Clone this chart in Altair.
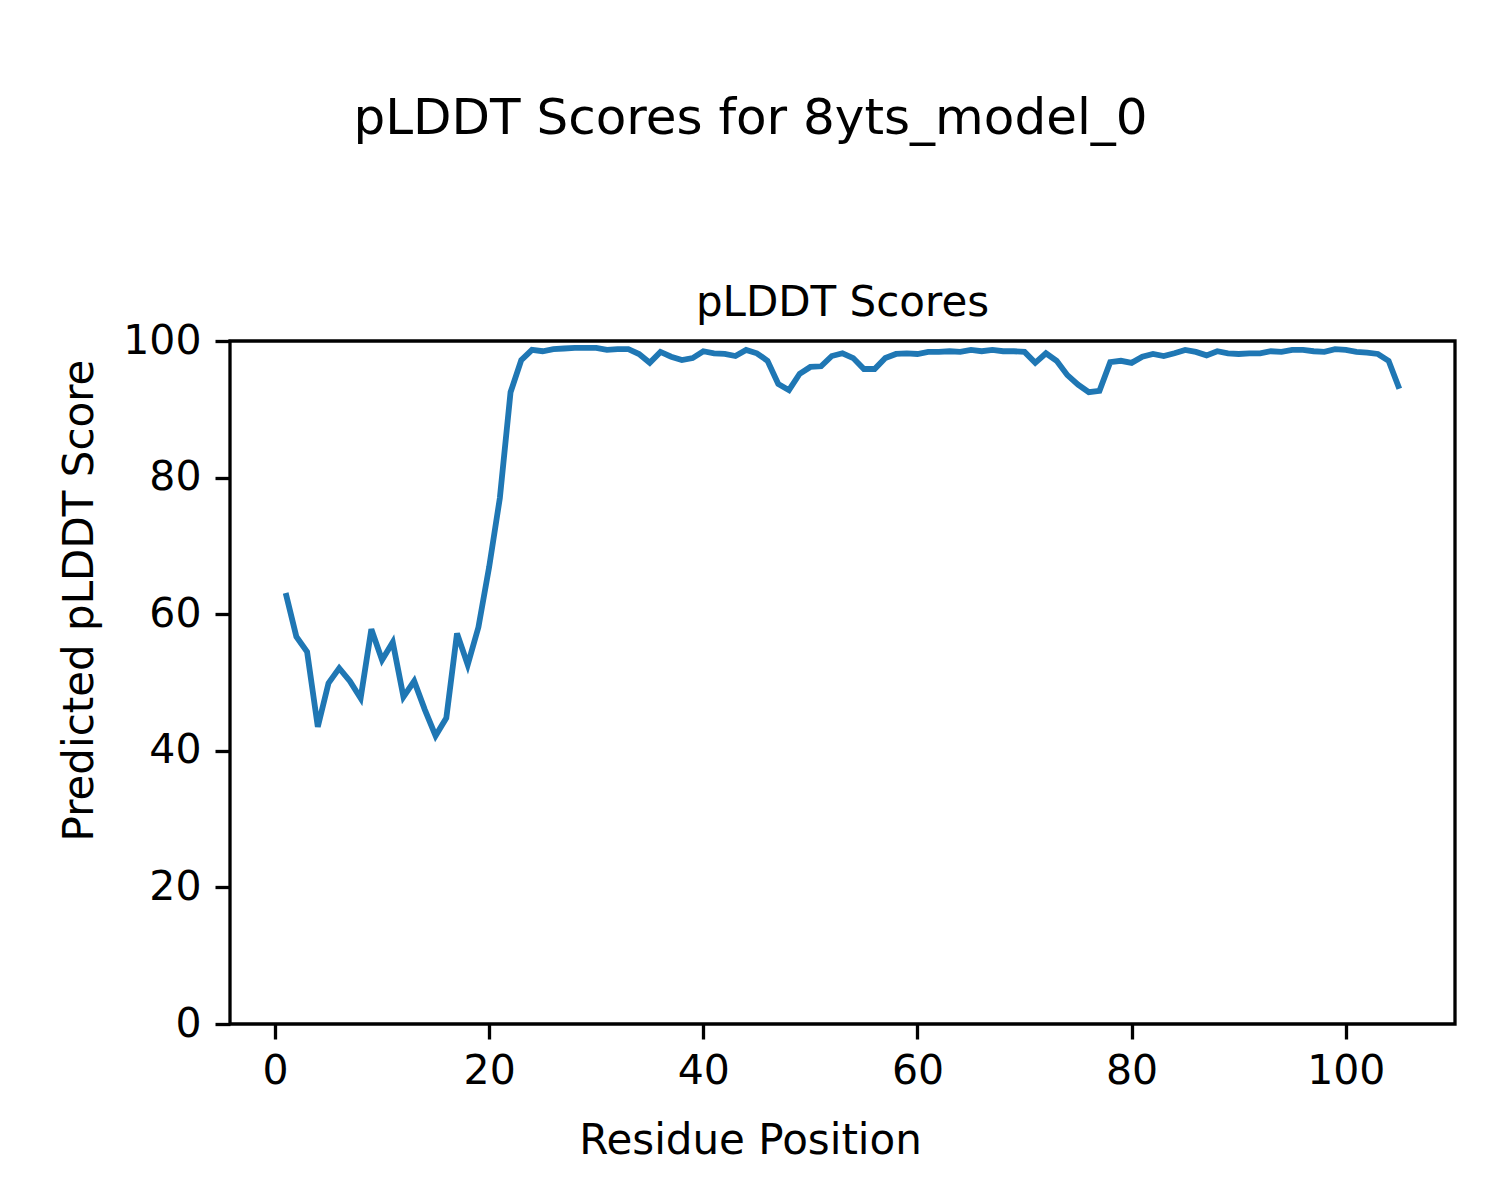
import altair as alt
import pandas as pd

residues = list(range(1, 106))
plddt = [
    63.1, 56.7, 54.5, 43.5, 49.9, 52.1, 50.2, 47.7, 57.8, 53.3,
    55.9, 47.9, 50.2, 46.0, 42.2, 44.8, 57.2, 52.6, 58.1, 66.9,
    77.0, 92.5, 97.2, 98.7, 98.5, 98.8, 98.9, 99.0, 99.0, 99.0,
    98.7, 98.8, 98.8, 98.1, 96.8, 98.4, 97.7, 97.2, 97.5, 98.5,
    98.2, 98.1, 97.8, 98.7, 98.2, 97.1, 93.7, 92.8, 95.2, 96.2,
    96.3, 97.8, 98.2, 97.5, 95.9, 95.9, 97.5, 98.1, 98.2, 98.1,
    98.4, 98.4, 98.5, 98.4, 98.7, 98.5, 98.7, 98.5, 98.5, 98.4,
    96.8, 98.2, 97.1, 95.0, 93.6, 92.5, 92.7, 96.9, 97.1, 96.8,
    97.7, 98.1, 97.8, 98.2, 98.7, 98.4, 97.9, 98.5, 98.2, 98.1,
    98.2, 98.2, 98.5, 98.4, 98.7, 98.7, 98.5, 98.4, 98.8, 98.7,
    98.4, 98.3, 98.1, 97.1, 93.0,
]
tick_values = [0, 20, 40, 60, 80, 100]

suptitle = "pLDDT Scores for 8yts_model_0"
axes_title = "pLDDT Scores"
x_title = "Residue Position"
y_title = "Predicted pLDDT Score"

df = pd.DataFrame({"residue": residues, "plddt": plddt})

FONT = "DejaVu Sans"
W, H = 1225, 683

line = alt.Chart(df).mark_line(color="#1f77b4", strokeWidth=5.8).encode(
    x=alt.X(
        "residue:Q",
        scale=alt.Scale(domain=[-4.2, 110.2], nice=False, zero=False),
        axis=alt.Axis(
            values=tick_values,
            title=x_title,
            titleX=520,
            titleY=129,
            titleAlign="center",
            titleBaseline="alphabetic",
            titleFontSize=42,
            titleFontWeight="normal",
            titleFont=FONT,
            titleColor="black",
            labelFontSize=41,
            labelFont=FONT,
            labelColor="black",
            labelPadding=12,
            tickSize=15,
            tickWidth=3.3,
            tickColor="black",
            domain=False,
            grid=False,
        ),
    ),
    y=alt.Y(
        "plddt:Q",
        scale=alt.Scale(domain=[0, 100], nice=False),
        axis=alt.Axis(
            values=tick_values,
            title=y_title,
            titleAngle=270,
            titleX=-138,
            titleY=259,
            titleAlign="center",
            titleBaseline="alphabetic",
            titleFontSize=42,
            titleFontWeight="normal",
            titleFont=FONT,
            titleColor="black",
            labelFontSize=41,
            labelFont=FONT,
            labelColor="black",
            labelPadding=14,
            tickSize=15,
            tickWidth=3.3,
            tickColor="black",
            domain=False,
            grid=False,
        ),
    ),
)

sub = alt.Chart(pd.DataFrame({"t": [axes_title]})).mark_text(
    font=FONT, fontSize=42, color="black", align="center", baseline="alphabetic"
).encode(
    text="t:N",
    x=alt.value(W / 2),
    y=alt.value(-25),
)

chart = alt.layer(line, sub).properties(
    width=W,
    height=H,
    background="white",
    autosize=alt.AutoSizeParams(type="none"),
    padding={"left": 222, "top": 333, "right": 37, "bottom": 168},
    title=alt.TitleParams(
        text=suptitle,
        font=FONT,
        fontSize=50,
        fontWeight="normal",
        color="black",
        anchor="middle",
        frame="group",
        baseline="alphabetic",
        offset=98,
        dx=-92,
    ),
).configure_view(
    stroke="black", strokeWidth=3.3
)

chart.save("out.html", embed_options={"renderer": "svg", "actions": False})
